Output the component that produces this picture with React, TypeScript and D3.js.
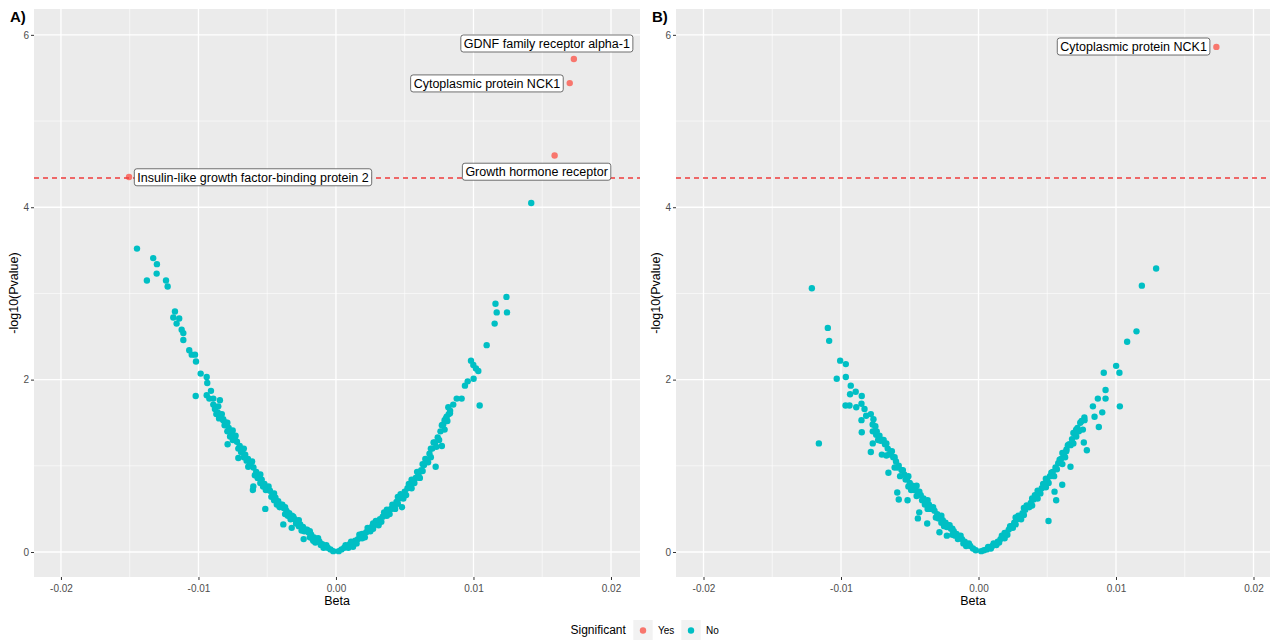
import { useEffect, useRef } from 'react'
import * as d3 from 'd3'

// axis ticks
const xTicks = [-0.02, -0.01, 0, 0.01, 0.02]
const xTickLabels = ['-0.02', '-0.01', '0.00', '0.01', '0.02']
const xMinor = [-0.015, -0.005, 0.005, 0.015]
const yTicks = [0, 2, 4, 6]
const yTickLabels = ['0', '2', '4', '6']
const yMinor = [1, 3, 5]

const threshold = 4.34

// [Beta, -log10(Pvalue)] for non significant proteins, panel A
const noA = [
  [-0.0002, 0.01], [-0.0004, 0.03], [-0.0006, 0.05], [-0.0008, 0.07], [-0.001, 0.09], [-0.0012, 0.12],
  [-0.0014, 0.14], [-0.0016, 0.17], [-0.0018, 0.2], [-0.002, 0.23], [-0.0022, 0.26], [-0.0024, 0.29],
  [-0.0026, 0.32], [-0.0028, 0.35], [-0.003, 0.38], [-0.0032, 0.42], [-0.0034, 0.45], [-0.0036, 0.48],
  [-0.0038, 0.51], [-0.004, 0.55], [-0.0042, 0.59], [-0.0044, 0.63], [-0.0046, 0.67], [-0.0048, 0.71],
  [-0.005, 0.75], [-0.0052, 0.79], [-0.0054, 0.84], [-0.0056, 0.88], [-0.0058, 0.93], [-0.006, 0.98],
  [-0.0062, 1.03], [-0.0064, 1.08], [-0.0066, 1.13], [-0.0068, 1.18], [-0.007, 1.23], [-0.0072, 1.28],
  [-0.0074, 1.33], [-0.0076, 1.38], [-0.0078, 1.44], [-0.008, 1.5], [-0.0082, 1.54], [-0.0084, 1.58],
  [-0.0086, 1.62], [-0.0088, 1.66],
  [-0.0011, 0.08], [-0.0017, 0.15], [-0.0023, 0.24], [-0.0029, 0.33], [-0.0035, 0.42], [-0.0041, 0.52],
  [-0.0047, 0.64], [-0.0053, 0.76], [-0.0059, 0.89], [-0.0065, 1.06], [-0.0071, 1.2], [-0.0077, 1.34],
  [-0.0013, 0.16], [-0.0021, 0.26], [-0.0031, 0.41], [-0.0039, 0.55], [-0.0049, 0.76], [-0.0061, 1.05],
  [-0.0073, 1.35], [-0.0083, 1.6],
  [-0.0009, 0.05], [-0.0015, 0.11], [-0.0019, 0.17], [-0.0025, 0.25], [-0.0027, 0.3], [-0.0033, 0.38],
  [-0.0037, 0.44], [-0.0043, 0.55], [-0.0045, 0.6], [-0.0051, 0.72], [-0.0055, 0.8], [-0.0057, 0.86],
  [-0.0063, 1.0], [-0.0067, 1.1], [-0.0069, 1.16], [-0.0075, 1.3], [-0.0079, 1.4], [-0.0081, 1.47],
  [-0.0085, 1.55], [-0.0087, 1.6], [-0.0007, 0.08], [-0.0019, 0.24], [-0.0027, 0.37], [-0.0037, 0.52],
  [-0.0045, 0.68], [-0.0055, 0.9], [-0.0067, 1.2], [-0.0079, 1.5],
  [-0.01447, 3.52], [-0.01329, 3.41], [-0.01302, 3.34], [-0.01304, 3.23], [-0.01375, 3.15], [-0.01236, 3.15],
  [-0.01224, 3.08], [-0.01171, 2.79], [-0.01183, 2.72], [-0.0114, 2.71], [-0.01159, 2.65], [-0.01122, 2.58],
  [-0.0111, 2.54], [-0.0111, 2.46], [-0.01067, 2.34], [-0.01049, 2.29], [-0.01025, 2.29], [-0.01018, 2.21],
  [-0.00984, 2.07], [-0.0094, 2.03], [-0.00936, 1.96], [-0.00909, 1.87], [-0.0102, 1.81], [-0.0094, 1.82],
  [-0.00921, 1.78], [-0.00892, 1.78], [-0.00844, 1.76], [-0.00892, 1.71], [-0.00856, 1.69], [-0.00844, 1.59],
  [-0.0082, 1.53], [-0.00751, 1.41], [-0.00759, 1.34], [-0.00735, 1.3], [-0.00788, 1.25], [-0.0071, 1.09],
  [-0.00686, 1.2], [-0.00662, 1.11], [-0.00638, 0.99], [-0.00601, 0.76], [-0.00604, 0.72], [-0.00514, 0.5],
  [-0.00383, 0.32], [-0.00322, 0.28], [-0.00235, 0.15], [-0.00165, 0.13],
  [0.0002, 0.01], [0.0004, 0.03], [0.0006, 0.05], [0.0008, 0.07], [0.001, 0.09], [0.0012, 0.11],
  [0.0014, 0.13], [0.0016, 0.15], [0.0018, 0.18], [0.002, 0.2], [0.0022, 0.23], [0.0024, 0.26],
  [0.0026, 0.29], [0.0028, 0.32], [0.003, 0.35], [0.0032, 0.38], [0.0034, 0.41], [0.0036, 0.44],
  [0.0038, 0.47], [0.004, 0.5], [0.0042, 0.54], [0.0044, 0.58], [0.0046, 0.62], [0.0048, 0.66],
  [0.005, 0.7], [0.0052, 0.74], [0.0054, 0.78], [0.0056, 0.82], [0.0058, 0.86], [0.006, 0.9],
  [0.0062, 0.95], [0.0064, 1.01], [0.0066, 1.07], [0.0068, 1.14], [0.007, 1.2], [0.0072, 1.27],
  [0.0074, 1.33], [0.0076, 1.4], [0.0078, 1.48], [0.008, 1.55], [0.0082, 1.6],
  [0.0011, 0.12], [0.0017, 0.2], [0.0023, 0.28], [0.0029, 0.36], [0.0035, 0.46], [0.0041, 0.55],
  [0.0047, 0.67], [0.0053, 0.79], [0.0059, 0.93], [0.0065, 1.08], [0.0071, 1.27], [0.0077, 1.47],
  [0.0013, 0.09], [0.0021, 0.17], [0.0031, 0.31], [0.0039, 0.44], [0.0049, 0.62], [0.0057, 0.8],
  [0.0067, 1.04], [0.0075, 1.3],
  [0.0009, 0.05], [0.0015, 0.1], [0.0019, 0.16], [0.0025, 0.24], [0.0027, 0.27], [0.0033, 0.35],
  [0.0037, 0.42], [0.0043, 0.5], [0.0045, 0.56], [0.0051, 0.66], [0.0055, 0.74], [0.0061, 0.86],
  [0.0063, 0.94], [0.0069, 1.1], [0.0073, 1.22], [0.0079, 1.42], [0.0081, 1.52], [0.0007, 0.08],
  [0.0019, 0.21], [0.0027, 0.33], [0.0037, 0.49], [0.0045, 0.64], [0.0055, 0.84], [0.0063, 1.02],
  [0.0069, 1.2], [0.0079, 1.53], [0.0083, 1.64],
  [0.0124, 2.96], [0.0116, 2.88], [0.01169, 2.78], [0.01244, 2.78], [0.01154, 2.65], [0.01096, 2.4],
  [0.00982, 2.22], [0.00999, 2.17], [0.01018, 2.13], [0.01035, 2.1], [0.01001, 2.01], [0.00958, 1.98],
  [0.00938, 1.93], [0.01045, 1.7], [0.00914, 1.78], [0.00878, 1.78], [0.00853, 1.71], [0.00817, 1.68],
  [0.00829, 1.61], [0.00805, 1.57], [0.00725, 0.99], [0.0077, 1.23], [0.0048, 0.52], [0.00124, 0.06],
  [0.0142, 4.05],
]

// [Beta, -log10(Pvalue)] for non significant proteins, panel B
const noB = [
  [-0.0002, 0.02], [-0.0004, 0.04], [-0.0006, 0.07], [-0.0008, 0.09], [-0.001, 0.12], [-0.0012, 0.15],
  [-0.0014, 0.18], [-0.0016, 0.21], [-0.0018, 0.24], [-0.002, 0.27], [-0.0022, 0.31], [-0.0024, 0.34],
  [-0.0026, 0.37], [-0.0028, 0.4], [-0.003, 0.44], [-0.0032, 0.48], [-0.0034, 0.51], [-0.0036, 0.55],
  [-0.0038, 0.58], [-0.004, 0.62], [-0.0042, 0.66], [-0.0044, 0.7], [-0.0046, 0.73], [-0.0048, 0.77],
  [-0.005, 0.8], [-0.0052, 0.85], [-0.0054, 0.9], [-0.0056, 0.95], [-0.0058, 1.0], [-0.006, 1.05],
  [-0.0062, 1.1], [-0.0064, 1.15], [-0.0066, 1.2], [-0.0068, 1.25], [-0.007, 1.3], [-0.0072, 1.35],
  [-0.0074, 1.4],
  [-0.0011, 0.1], [-0.0017, 0.19], [-0.0023, 0.29], [-0.0029, 0.39], [-0.0035, 0.5], [-0.0041, 0.6],
  [-0.0047, 0.72], [-0.0053, 0.84], [-0.0059, 0.98], [-0.0065, 1.13], [-0.0071, 1.29], [-0.0013, 0.19],
  [-0.0021, 0.31], [-0.0033, 0.52], [-0.0043, 0.7], [-0.0055, 0.95], [-0.0063, 1.17], [-0.0069, 1.3],
  [-0.0009, 0.07], [-0.0015, 0.15], [-0.0019, 0.2], [-0.0025, 0.3], [-0.0027, 0.34], [-0.0031, 0.4],
  [-0.0037, 0.5], [-0.0039, 0.55], [-0.0045, 0.65], [-0.0049, 0.72], [-0.0051, 0.76], [-0.0057, 0.88],
  [-0.0061, 0.98], [-0.0067, 1.12], [-0.0073, 1.3], [-0.0007, 0.1], [-0.0019, 0.27], [-0.0027, 0.42],
  [-0.0037, 0.6], [-0.0045, 0.77], [-0.0051, 0.88], [-0.0061, 1.1], [-0.0067, 1.26], [-0.0075, 1.46],
  [-0.0077, 1.48],
  [-0.01212, 3.06], [-0.01096, 2.6], [-0.01086, 2.45], [-0.01006, 2.22], [-0.00965, 2.18], [-0.01031, 2.01],
  [-0.00965, 2.03], [-0.00929, 1.93], [-0.00934, 1.83], [-0.00893, 1.86], [-0.00849, 1.81], [-0.00967, 1.7],
  [-0.00938, 1.7], [-0.00889, 1.68], [-0.00851, 1.72], [-0.00829, 1.66], [-0.00783, 1.6], [-0.00817, 1.58],
  [-0.00764, 1.54], [-0.00851, 1.53], [-0.00849, 1.39], [-0.01161, 1.26], [-0.00769, 1.4], [-0.00744, 1.36],
  [-0.0072, 1.3], [-0.00769, 1.26], [-0.00783, 1.16], [-0.00703, 1.13], [-0.00655, 0.92], [-0.00591, 0.69],
  [-0.0058, 0.61], [-0.00516, 0.6], [-0.00441, 0.39], [-0.00373, 0.33], [-0.00284, 0.23], [-0.0023, 0.19],
  [-0.00431, 0.46],
  [0.0002, 0.01], [0.0004, 0.02], [0.0006, 0.03], [0.0008, 0.05], [0.001, 0.07], [0.0012, 0.09],
  [0.0014, 0.12], [0.0016, 0.15], [0.0018, 0.18], [0.002, 0.22], [0.0022, 0.26], [0.0024, 0.3],
  [0.0026, 0.34], [0.0028, 0.38], [0.003, 0.41], [0.0032, 0.45], [0.0034, 0.49], [0.0036, 0.53],
  [0.0038, 0.57], [0.004, 0.61], [0.0042, 0.65], [0.0044, 0.7], [0.0046, 0.74], [0.0048, 0.78],
  [0.005, 0.83], [0.0052, 0.88], [0.0054, 0.93], [0.0056, 0.98], [0.0058, 1.03], [0.006, 1.08],
  [0.0062, 1.13], [0.0064, 1.19], [0.0066, 1.25], [0.0068, 1.31], [0.007, 1.38], [0.0072, 1.44],
  [0.0074, 1.5],
  [0.0011, 0.1], [0.0017, 0.19], [0.0023, 0.3], [0.0029, 0.42], [0.0035, 0.54], [0.0041, 0.66],
  [0.0047, 0.79], [0.0053, 0.92], [0.0059, 1.07], [0.0065, 1.24], [0.0071, 1.42], [0.0015, 0.11],
  [0.0025, 0.28], [0.0037, 0.52], [0.0045, 0.68], [0.0057, 0.96], [0.0067, 1.24],
  [0.0009, 0.04], [0.0013, 0.08], [0.0019, 0.16], [0.0021, 0.2], [0.0027, 0.32], [0.0031, 0.38],
  [0.0033, 0.43], [0.0039, 0.54], [0.0043, 0.62], [0.0049, 0.75], [0.0051, 0.8], [0.0055, 0.88],
  [0.0061, 1.02], [0.0063, 1.1], [0.0069, 1.26], [0.0073, 1.4], [0.0007, 0.06], [0.0019, 0.22],
  [0.0027, 0.4], [0.0033, 0.51], [0.0039, 0.62], [0.0043, 0.71], [0.0049, 0.85], [0.0061, 1.15],
  [0.0069, 1.38], [0.0075, 1.52], [0.0077, 1.56],
  [0.00509, 0.36], [0.00565, 0.6], [0.00553, 0.7], [0.00609, 0.78], [0.00669, 0.99], [0.00788, 1.18],
  [0.00766, 1.27], [0.00638, 1.17], [0.00875, 1.45], [0.009, 1.62], [0.00924, 1.78], [0.00924, 1.88],
  [0.00911, 2.08], [0.01001, 2.16], [0.01025, 2.08], [0.01028, 1.69], [0.01081, 2.44], [0.01292, 3.29],
  [0.01188, 3.09], [0.01149, 2.56], [0.00868, 1.78], [0.00832, 1.69], [0.00844, 1.57], [0.00771, 1.53],
  [0.00759, 1.42], [0.00711, 1.34],
]

// significant proteins
const sigA = [
  { name: 'GDNF family receptor alpha-1', beta: 0.0173, logp: 5.72 },
  { name: 'Cytoplasmic protein NCK1', beta: 0.017, logp: 5.44 },
  { name: 'Growth hormone receptor', beta: 0.0159, logp: 4.6 },
  { name: 'Insulin-like growth factor-binding protein 2', beta: -0.01505, logp: 4.35 },
]
const sigB = [{ name: 'Cytoplasmic protein NCK1', beta: 0.0173, logp: 5.86 }]

const legendKeys = ['Yes', 'No']
const colors = { Yes: '#F8766D', No: '#00BFC4' }

// where each repelled label sits relative to its point (px)
const labelNudge = {
  A: {
    'GDNF family receptor alpha-1': { dx: -27, dy: -15.5, align: 'middle' },
    'Cytoplasmic protein NCK1': { dx: -6.5, dy: 0.3, align: 'end' },
    'Growth hormone receptor': { dx: -18, dy: 16.2, align: 'middle' },
    'Insulin-like growth factor-binding protein 2': { dx: 5.3, dy: 0.2, align: 'start' },
  },
  B: {
    'Cytoplasmic protein NCK1': { dx: -6.5, dy: -0.4, align: 'end' },
  },
}

const FONT = '"Liberation Sans", Arial, Helvetica, sans-serif'
const R = 3.2

function App() {
  const ref = useRef(null)

  useEffect(() => {
    const svg = d3.select(ref.current)
    svg.selectAll('*').remove()

    const top = 9,
      bottom = 577

    const panels = [
      { key: 'A', tag: 'A)', left: 34, right: 640, xDomain: [-0.02196, 0.02211], no: noA, yes: sigA },
      { key: 'B', tag: 'B)', left: 676, right: 1270, xDomain: [-0.022, 0.0212], no: noB, yes: sigB },
    ]

    const y = d3.scaleLinear().domain([-0.29, 6.3]).range([bottom, top])

    panels.forEach((p) => {
      const x = d3.scaleLinear().domain(p.xDomain).range([p.left, p.right])
      const g = svg.append('g')

      g.append('rect')
        .attr('x', p.left)
        .attr('y', top)
        .attr('width', p.right - p.left)
        .attr('height', bottom - top)
        .attr('fill', '#EBEBEB')

      // grid
      g.selectAll('.vminor')
        .data(xMinor)
        .enter()
        .append('line')
        .attr('x1', (d) => x(d))
        .attr('x2', (d) => x(d))
        .attr('y1', top)
        .attr('y2', bottom)
        .attr('stroke', '#fff')
        .attr('stroke-width', 0.6)
      g.selectAll('.hminor')
        .data(yMinor)
        .enter()
        .append('line')
        .attr('y1', (d) => y(d))
        .attr('y2', (d) => y(d))
        .attr('x1', p.left)
        .attr('x2', p.right)
        .attr('stroke', '#fff')
        .attr('stroke-width', 0.6)
      g.selectAll('.vmajor')
        .data(xTicks)
        .enter()
        .append('line')
        .attr('x1', (d) => x(d))
        .attr('x2', (d) => x(d))
        .attr('y1', top)
        .attr('y2', bottom)
        .attr('stroke', '#fff')
        .attr('stroke-width', 1.3)
      g.selectAll('.hmajor')
        .data(yTicks)
        .enter()
        .append('line')
        .attr('y1', (d) => y(d))
        .attr('y2', (d) => y(d))
        .attr('x1', p.left)
        .attr('x2', p.right)
        .attr('stroke', '#fff')
        .attr('stroke-width', 1.3)

      // points
      g.selectAll('.no')
        .data(p.no)
        .enter()
        .append('circle')
        .attr('cx', (d) => x(d[0]))
        .attr('cy', (d) => y(d[1]))
        .attr('r', R)
        .attr('fill', colors.No)
      g.selectAll('.yes')
        .data(p.yes)
        .enter()
        .append('circle')
        .attr('cx', (d) => x(d.beta))
        .attr('cy', (d) => y(d.logp))
        .attr('r', R)
        .attr('fill', colors.Yes)

      // threshold
      g.append('line')
        .attr('x1', p.left)
        .attr('x2', p.right)
        .attr('y1', y(threshold))
        .attr('y2', y(threshold))
        .attr('stroke', '#F03C3C')
        .attr('stroke-width', 1.4)
        .attr('stroke-dasharray', '5,4')

      // labels
      p.yes.forEach((d) => {
        const n = labelNudge[p.key][d.name]
        const px = x(d.beta) + n.dx
        const py = y(d.logp) + n.dy
        const lg = g.append('g')
        const rect = lg.append('rect')
        const t = lg
          .append('text')
          .text(d.name)
          .attr('font-family', FONT)
          .attr('font-size', 12.5)
          .attr('fill', '#000')
          .attr('text-anchor', n.align)
          .attr('dominant-baseline', 'central')
          .attr('x', n.align === 'end' ? px - 3 : n.align === 'start' ? px + 3 : px)
          .attr('y', py + 0.5)
        const w = t.node().getComputedTextLength() + 6
        const bx = n.align === 'end' ? px - w : n.align === 'start' ? px : px - w / 2
        rect
          .attr('x', bx)
          .attr('y', py - 8.5)
          .attr('width', w)
          .attr('height', 17)
          .attr('rx', 2.5)
          .attr('fill', '#fff')
          .attr('stroke', '#333')
          .attr('stroke-width', 0.7)
      })

      // axes
      const xAxis = d3
        .axisBottom(x)
        .tickValues(xTicks)
        .tickFormat((d, i) => xTickLabels[i])
        .tickSize(3)
        .tickPadding(5)
      const ax = g.append('g').attr('transform', 'translate(0,' + bottom + ')').call(xAxis)
      const yAxis = d3
        .axisLeft(y)
        .tickValues(yTicks)
        .tickFormat((d, i) => yTickLabels[i])
        .tickSize(3)
        .tickPadding(2)
      const ay = g.append('g').attr('transform', 'translate(' + p.left + ',0)').call(yAxis)
      ;[ax, ay].forEach((a) => {
        a.select('.domain').remove()
        a.selectAll('line').attr('stroke', '#333')
        a.selectAll('text').attr('fill', '#4D4D4D').attr('font-size', 10).attr('font-family', FONT)
      })

      g.append('text')
        .text('Beta')
        .attr('x', (p.left + p.right) / 2)
        .attr('y', 605)
        .attr('text-anchor', 'middle')
        .attr('font-family', FONT)
        .attr('font-size', 12.5)
        .attr('fill', '#000')

      g.append('text')
        .text('-log10(Pvalue)')
        .attr('transform', 'translate(' + (p.left - 16) + ',' + (top + bottom) / 2 + ') rotate(-90)')
        .attr('text-anchor', 'middle')
        .attr('font-family', FONT)
        .attr('font-size', 12.5)
        .attr('fill', '#000')

      g.append('text')
        .text(p.tag)
        .attr('x', p.left - 24)
        .attr('y', 21.5)
        .attr('font-family', FONT)
        .attr('font-size', 15)
        .attr('font-weight', 'bold')
        .attr('fill', '#000')
    })

    // legend
    const lg = svg.append('g')
    lg.append('text')
      .text('Significant')
      .attr('x', 570.5)
      .attr('y', 634)
      .attr('font-family', FONT)
      .attr('font-size', 12)
      .attr('fill', '#000')
    const keyX = [633.3, 681.3]
    legendKeys.forEach((k, i) => {
      lg.append('rect')
        .attr('x', keyX[i])
        .attr('y', 620)
        .attr('width', 19.4)
        .attr('height', 20)
        .attr('fill', '#F2F2F2')
      lg.append('circle')
        .attr('cx', keyX[i] + 9.7)
        .attr('cy', 630.5)
        .attr('r', R)
        .attr('fill', colors[k])
      lg.append('text')
        .text(k)
        .attr('x', keyX[i] + 24.7)
        .attr('y', 634.3)
        .attr('font-family', FONT)
        .attr('font-size', 10)
        .attr('fill', '#000')
    })
  }, [])

  return (
    <svg
      ref={ref}
      width={1280}
      height={640}
      style={{ position: 'absolute', left: 0, top: 0, background: '#fff' }}
    />
  )
}

export default App
